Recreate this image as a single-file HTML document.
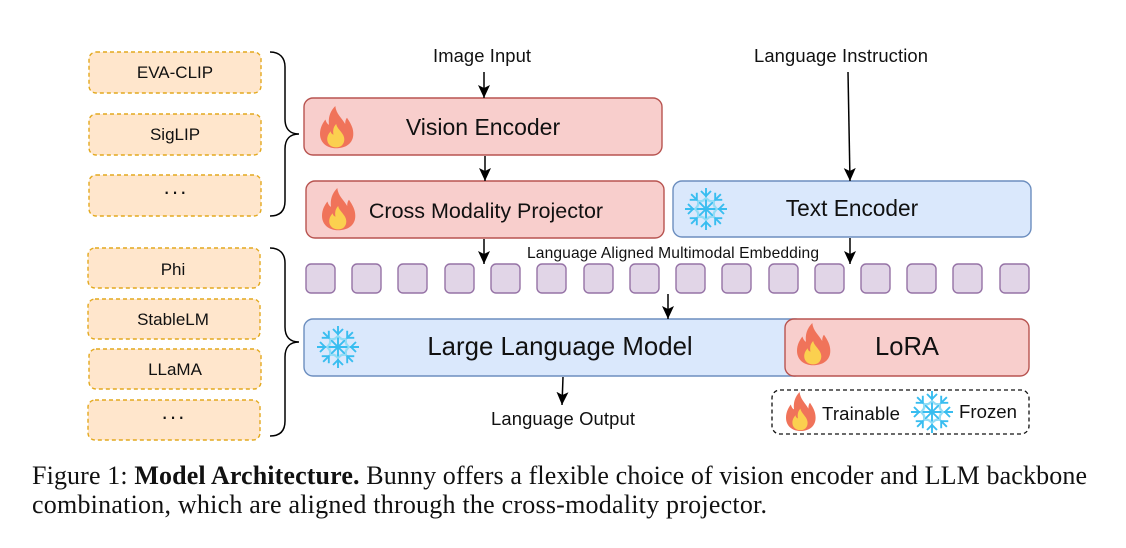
<!DOCTYPE html>
<html><head><meta charset="utf-8"><style>
html,body{margin:0;padding:0;background:#fff}
svg{display:block}
text{font-family:"Liberation Sans",sans-serif;fill:#111;text-anchor:middle}
.o{fill:#ffe6cc;stroke:#e3a91f;stroke-width:1.4;stroke-dasharray:4 3}
.r{fill:#f8cecc;stroke:#b85450;stroke-width:1.4}
.b{fill:#dae8fc;stroke:#6c8ebf;stroke-width:1.4}
.p{fill:#e1d5e7;stroke:#9673a6;stroke-width:1.4}
.l{fill:none;stroke:#000;stroke-width:1.5}
.c{font-family:"Liberation Serif",serif;font-size:26px;text-anchor:start}
</style></head><body>
<svg width="1126" height="548" viewBox="0 0 1126 548" xmlns="http://www.w3.org/2000/svg">
<defs>
<g id="fl">
<path d="M17 0C18 9 24 13 28 20C28 16 29 14 30 13C34 19 37 24 37 31C37 42 28 47 18 47C8 47 0 41 0 31C0 24 3 19 6 15C7 18 8 20 10 21C9 13 11 6 17 0Z" fill="#f0735a"/>
<path d="M18 20C19 26 27 30 27 37C27 43 23 46 18 46C13 46 8 43 8 37C8 33 10 30 12 28C12 30 13 31 15 32C14 27 15 23 18 20Z" fill="#fbd04f"/>
</g>
<g id="a"><path d="M0 0V-21M-5 -18L0 -13L5 -18" fill="none" stroke="#38bdf0" stroke-width="1.9"/><path d="M-5 -7L0 -11L5 -7" fill="none" stroke="#8fdcf6" stroke-width="1.9"/></g>
<g id="sn">
<use href="#a" transform="rotate(45)"/><use href="#a" transform="rotate(90)"/><use href="#a" transform="rotate(135)"/><use href="#a" transform="rotate(180)"/><use href="#a" transform="rotate(225)"/><use href="#a" transform="rotate(270)"/><use href="#a" transform="rotate(315)"/><use href="#a"/>
</g>
<marker id="m" markerWidth="16" markerHeight="16" refX="13" refY="6" orient="auto" markerUnits="userSpaceOnUse"><path d="M0 0L13 6L0 12L3 6Z" fill="#000"/></marker>
</defs>

<rect class="o" x="89" y="52" width="172" height="41" rx="7"/>
<rect class="o" x="89" y="114" width="172" height="41" rx="7"/>
<rect class="o" x="89" y="175" width="172" height="41" rx="7"/>
<rect class="o" x="88" y="248" width="172" height="40" rx="7"/>
<rect class="o" x="88" y="299" width="172" height="40" rx="7"/>
<rect class="o" x="89" y="349" width="172" height="40" rx="7"/>
<rect class="o" x="88" y="400" width="172" height="40" rx="7"/>
<g font-size="17">
<text x="175" y="78">EVA-CLIP</text>
<text x="175" y="140">SigLIP</text>
<text x="175" y="199" font-size="22" textLength="24">···</text>
<text x="173" y="275">Phi</text>
<text x="173" y="325">StableLM</text>
<text x="175" y="375">LLaMA</text>
<text x="173" y="424" font-size="22" textLength="24">···</text>
</g>

<path class="l" d="M270 52C280 52 285 58 285 67V119C285 129 290 134 299 134C290 134 285 139 285 149V201C285 211 280 216 270 216"/>
<path class="l" d="M270 248C280 248 285 254 285 263V327C285 337 290 342 299 342C290 342 285 347 285 357V421C285 431 280 436 270 436"/>

<rect class="r" x="304" y="98" width="358" height="57" rx="9"/>
<rect class="r" x="306" y="181" width="358" height="57" rx="9"/>
<rect class="b" x="673" y="181" width="358" height="56" rx="9"/>
<rect class="b" x="304" y="319" width="500" height="57" rx="9"/>
<rect class="r" x="785" y="319" width="244" height="57" rx="9"/>

<use href="#fl" transform="translate(320 106) scale(.9 .9)"/>
<use href="#fl" transform="translate(322 188) scale(.9 .9)"/>
<use href="#fl" transform="translate(797 323) scale(.9 .9)"/>
<use href="#sn" x="706" y="209"/>
<use href="#sn" x="338" y="347"/>

<text x="483" y="135" font-size="23">Vision Encoder</text>
<text x="486" y="218" font-size="21.5">Cross Modality Projector</text>
<text x="852" y="216" font-size="22.7">Text Encoder</text>
<text x="560" y="355" font-size="25.8">Large Language Model</text>
<text x="907" y="355" font-size="25.6">LoRA</text>

<text x="482" y="62" font-size="18.4" textLength="98">Image Input</text>
<text x="841" y="62" font-size="18.4" textLength="174">Language Instruction</text>
<text x="673" y="258" font-size="15.6" textLength="292">Language Aligned Multimodal Embedding</text>
<text x="563" y="425" font-size="18.4" textLength="144">Language Output</text>

<rect class="p" x="306" y="264" width="29" height="29" rx="5"/><rect class="p" x="352" y="264" width="29" height="29" rx="5"/><rect class="p" x="398" y="264" width="29" height="29" rx="5"/><rect class="p" x="445" y="264" width="29" height="29" rx="5"/><rect class="p" x="491" y="264" width="29" height="29" rx="5"/><rect class="p" x="537" y="264" width="29" height="29" rx="5"/><rect class="p" x="584" y="264" width="29" height="29" rx="5"/><rect class="p" x="630" y="264" width="29" height="29" rx="5"/><rect class="p" x="676" y="264" width="29" height="29" rx="5"/><rect class="p" x="722" y="264" width="29" height="29" rx="5"/><rect class="p" x="769" y="264" width="29" height="29" rx="5"/><rect class="p" x="815" y="264" width="29" height="29" rx="5"/><rect class="p" x="861" y="264" width="29" height="29" rx="5"/><rect class="p" x="907" y="264" width="29" height="29" rx="5"/><rect class="p" x="953" y="264" width="29" height="29" rx="5"/><rect class="p" x="1000" y="264" width="29" height="29" rx="5"/>

<path class="l" d="M484 72V98" marker-end="url(#m)"/>
<path class="l" d="M485 156V181" marker-end="url(#m)"/>
<path class="l" d="M848 72L850 181" marker-end="url(#m)"/>
<path class="l" d="M484 239V264" marker-end="url(#m)"/>
<path class="l" d="M850 238V264" marker-end="url(#m)"/>
<path class="l" d="M668 294V319" marker-end="url(#m)"/>
<path class="l" d="M563 377L562 405" marker-end="url(#m)"/>

<rect x="772" y="390" width="257" height="44" rx="8" fill="none" stroke="#111" stroke-width="1.3" stroke-dasharray="4 3"/>
<use href="#fl" transform="translate(786 392) scale(.8 .83)"/>
<use href="#sn" x="932" y="412"/>
<text x="861" y="420" font-size="18.6" textLength="78">Trainable</text>
<text x="988" y="418" font-size="18.6" textLength="58">Frozen</text>

<text class="c" x="32" y="484" textLength="1055" lengthAdjust="spacing">Figure 1: <tspan font-weight="bold" fill="#111">Model Architecture.</tspan> Bunny offers a flexible choice of vision encoder and LLM backbone</text>
<text class="c" x="32" y="513" textLength="735" lengthAdjust="spacing">combination, which are aligned through the cross-modality projector.</text>
</svg>
</body></html>
